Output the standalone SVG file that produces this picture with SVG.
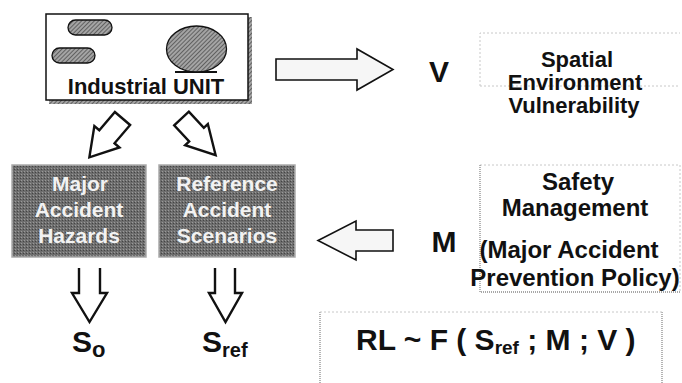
<svg xmlns="http://www.w3.org/2000/svg" width="682" height="383" viewBox="0 0 682 383">
<defs>
<pattern id="hatch" width="3" height="3" patternUnits="userSpaceOnUse" patternTransform="rotate(45)">
<rect width="3" height="3" fill="#a4a4a4"/>
<line x1="0" y1="0" x2="0" y2="3" stroke="#333" stroke-width="1.2"/>
</pattern>
<pattern id="dark" width="3" height="3" patternUnits="userSpaceOnUse">
<rect width="3" height="3" fill="#6e6e6e"/>
<rect width="1" height="1" fill="#9a9a9a"/>
<rect x="2" y="1" width="1" height="1" fill="#444"/>
</pattern>
</defs>
<style>
text{font-family:"Liberation Sans",Arial,sans-serif;font-weight:bold;fill:#111}
.arrow{fill:#fff;stroke:#111;stroke-width:2.4;stroke-linejoin:miter}
.harrow{fill:#f6f6f6;stroke:#111;stroke-width:1.6}
.dbox{fill:url(#dark);stroke:#aaa;stroke-width:1.5}
.dtext{fill:#f2f2f2;font-size:21px;text-anchor:middle}
.rtext{font-size:22px;text-anchor:middle}
.stext{font-size:24px;text-anchor:middle}
.big{font-size:30px}
.faint{fill:none;stroke:#c8c8c8;stroke-width:1;stroke-dasharray:2 2}
.gline{fill:none;stroke:#8c8c8c;stroke-width:1.3;stroke-dasharray:1 1}
</style>

<g id="industrial-unit">
<path d="M248,17 H252 V104 H49 V100 H248 Z" fill="url(#hatch)"/>
<rect x="46" y="14" width="202" height="86" fill="#fff" stroke="#111" stroke-width="1.5"/>
<rect x="68" y="20" width="44" height="15" rx="7.5" fill="url(#hatch)" stroke="#111" stroke-width="1.3"/>
<rect x="52" y="48" width="43" height="15" rx="7.5" fill="url(#hatch)" stroke="#111" stroke-width="1.3"/>
<line x1="175" y1="72" x2="217" y2="72" stroke="#111" stroke-width="2"/>
<ellipse cx="196.5" cy="49" rx="30" ry="23" fill="url(#hatch)" stroke="#111" stroke-width="1.3"/>
<text x="146" y="94" font-size="22" text-anchor="middle">Industrial UNIT</text>
</g>

<g id="v-label">
<text x="439" y="82" class="big" text-anchor="middle">V</text>
</g>

<g id="spatial-vulnerability">
<path class="faint" d="M480,86 V33 H680 M480,86 H680"/>
<text class="rtext" x="577" y="67">Spatial</text>
<text class="rtext" x="575" y="90">Environment</text>
<text class="rtext" x="574" y="113">Vulnerability</text>
</g>

<g id="major-accident-hazards">
<rect class="dbox" x="12" y="165" width="134" height="92"/>
<text class="dtext" x="80" y="191">Major</text>
<text class="dtext" x="79" y="217">Accident</text>
<text class="dtext" x="79" y="243">Hazards</text>
</g>

<g id="reference-accident-scenarios">
<rect class="dbox" x="159" y="165" width="136" height="92"/>
<text class="dtext" x="227" y="191">Reference</text>
<text class="dtext" x="227" y="217">Accident</text>
<text class="dtext" x="227" y="243">Scenarios</text>
</g>

<g id="m-label">
<text x="444" y="252" class="big" text-anchor="middle">M</text>
</g>

<g id="safety-management">
<path class="faint" d="M480,165 H680 V292"/>
<path class="gline" d="M480,165 V292 H681"/>
<text class="stext" x="578" y="190">Safety</text>
<text class="stext" x="575" y="216">Management</text>
<text class="stext" x="569" y="258">(Major Accident</text>
<text class="stext" x="575" y="286">Prevention Policy)</text>
</g>

<g id="s-o">
<text x="72" y="352" class="big">S<tspan font-size="22" dy="5">o</tspan></text>
</g>

<g id="s-ref">
<text x="202" y="352" class="big">S<tspan font-size="20" dy="5">ref</tspan></text>
</g>

<g id="risk-level">
<path class="gline" d="M320,383 V312 M662,312 V383"/>
<path class="faint" d="M320,312 H662"/>
<text x="356" y="350" font-size="30">RL ~ F ( S<tspan font-size="19" dy="4">ref</tspan><tspan dy="-4"> ; M ; V )</tspan></text>
</g>

<g id="connectors">
<path class="harrow" d="M276,59 H357 V49 L393,69.5 L357,90 V80 H276 Z"/>
<path class="arrow" transform="translate(122.5,118.5) rotate(130.5)" d="M0,-10 H24 V-16.5 L51,0 L24,16.5 V10 H0 Z"/>
<path class="arrow" transform="translate(181.5,118.5) rotate(47)" d="M0,-10 H22 V-15.5 L50,0 L22,15.5 V10 H0 Z"/>
<path class="harrow" d="M393,230 H356 V221 L318,240.5 L356,260 V251 H393 Z"/>
<path class="arrow" d="M79,268 V293 H72 L89.5,322 L107,293 H100 V268"/>
<path class="arrow" d="M215,268 V293 H209 L225.5,322 L242,293 H235 V268"/>
</g>
</svg>
